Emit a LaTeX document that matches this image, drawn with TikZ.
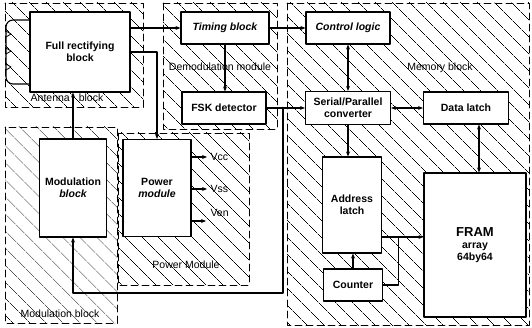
\documentclass[tikz,border=0pt]{standalone}
\usepackage{fontspec}
\setmainfont{Liberation Sans}
\usetikzlibrary{calc,arrows.meta,positioning,patterns.meta}

\begin{document}
\begin{tikzpicture}[x=1pt,y=-1pt,>={Stealth[length=5pt,width=4pt]},line join=round,line cap=round,
    region/.style={pattern={Lines[angle=-45,distance=13pt,line width=0.6pt]},
      postaction={draw,dash pattern=on 7pt off 4pt,line width=0.8pt}},
    blk/.style={draw,line width=1.1pt,fill=white,align=center,inner sep=1pt,font=\fontsize{10.5}{12}\selectfont\bfseries},
    lbl/.style={font=\fontsize{10.5}{12}\selectfont},
    wire/.style={line width=1.1pt}]
  \useasboundingbox (0,0) rectangle (532,328);

  \path[region] (5,3) rectangle (143,107);
  \path[region] (163,3) rectangle (277,129);
  \path[region] (287,3) rectangle (529,325);
  \path[region] (5,127) rectangle (117,323);
  \path[region] (118,133) rectangle (249,285);

  \node[lbl] (antlbl) at (67,98) {Antenna\hspace{9pt}block};
  \node[lbl] (demlbl) at (220,67) {Demodulation module};
  \node[lbl] (memlbl) at (440,68) {Memory block};
  \node[lbl] (pwrlbl) at (186,265) {Power Module};
  \node[lbl] (modlbl) at (60,314) {Modulation block};

  \node[blk,minimum width=100pt,minimum height=80pt] (fr) at (80,52) {Full rectifying\\block};
  \node[blk,minimum width=88pt,minimum height=32pt] (timing) at (225,28) {\itshape Timing block};
  \node[blk,minimum width=84pt,minimum height=32pt] (fsk) at (224,108) {FSK detector};
  \node[blk,minimum width=84pt,minimum height=32pt] (ctrl) at (348,28) {\itshape Control logic};
  \node[blk,minimum width=85pt,minimum height=33pt] (sp) at (348,108) {Serial/Parallel\\converter};
  \node[blk,minimum width=85pt,minimum height=32pt] (dlatch) at (466,108) {Data latch};
  \node[blk,minimum width=67pt,minimum height=98pt] (modb) at (73,188) {Modulation\\\itshape block};
  \node[blk,minimum width=68pt,minimum height=97pt] (pwr) at (157,188) {Power\\\itshape module};
  \node[blk,minimum width=59pt,minimum height=96pt] (addr) at (352,205) {Address\\latch};
  \node[blk,minimum width=59pt,minimum height=32pt] (counter) at (353,285) {Counter};
  \node[blk,minimum width=102pt,minimum height=144pt] (fram) at (475,245) {{\fontsize{13}{15}\selectfont FRAM}\\array\\64by64};

  \draw[wire,rounded corners=7pt] (fr.west |- 0,20) -- (6,20) -- (6,84) -- (fr.west |- 0,84);
  \foreach \y in {34,51,67}
    \draw[line width=0.8pt] (6,\y-3) -- (11,\y) -- (6,\y+3);

  \node[lbl,anchor=west] (vcc) at (207,157) {Vcc};
  \node[lbl,anchor=west] (vss) at (207,189) {Vss};
  \node[lbl,anchor=west] (ven) at (207,213) {Ven};
  \coordinate (venend) at (206,221);
  \draw[wire,->] (pwr.east |- vcc.west) -- (vcc.west);
  \draw[wire,->] (pwr.east |- vss.west) -- (vss.west);
  \draw[wire,->] (pwr.east |- venend) -- (venend);

  \draw[wire,->] (fr.east |- timing.west) -- (timing.west);
  \draw[wire,->] (fr.east) -| (pwr.north);
  \draw[wire,->] (modb.north) -- (modb.north |- fr.south);
  \draw[wire,->] (timing.south) -- (timing.south |- fsk.north);
  \draw[wire,->] (timing.east) -- (ctrl.west);
  \draw[wire,<->] (ctrl.south) -- (sp.north);
  \draw[wire,->] (fsk.east) -- (sp.west);
  \coordinate (tap) at (fsk.east -| 283,0);
  \fill (tap) circle (1.4pt);
  \draw[wire,->] (tap) -- (tap |- 0,293) -| (modb.south);
  \draw[wire,<->] (sp.east) -- (dlatch.west);
  \draw[wire,->] (sp.south) -- (sp.south |- addr.north);
  \draw[wire,<->] (dlatch.south -| 479,0) -- (fram.north -| 479,0);
  \coordinate (aout) at ([yshift=-32pt]addr.east);
  \coordinate (merge) at ($(aout)+(16,0)$);
  \draw[wire,->] (aout) -- (aout -| fram.west);
  \draw[wire] (counter.east) -| (merge);
  \fill (merge) circle (1.2pt);
  \draw[wire,->] (counter.north) -- (counter.north |- addr.south);
\end{tikzpicture}
\end{document}
